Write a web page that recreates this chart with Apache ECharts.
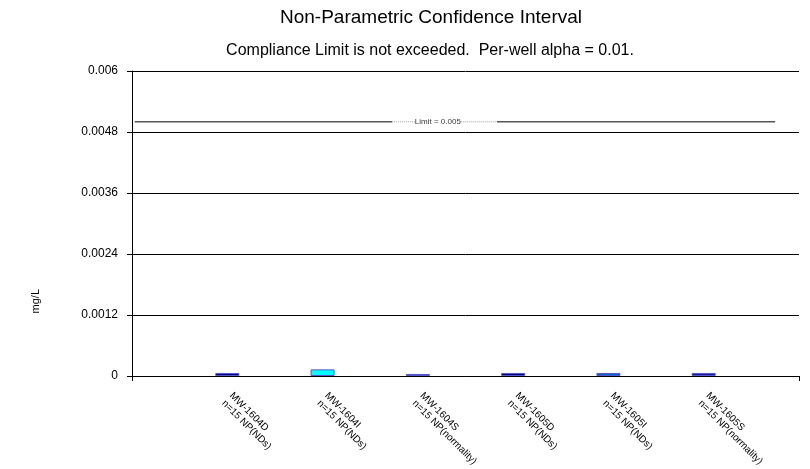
<!DOCTYPE html>
<html><head><meta charset="utf-8">
<script src="https://cdn.jsdelivr.net/npm/echarts@6/dist/echarts.min.js"></script>
<style>html,body{margin:0;padding:0;background:#fff}#c{width:810px;height:469px}</style>
</head><body><div id="c"></div>
<script>
var wells = ['MW-1604D', 'MW-1604I', 'MW-1604S', 'MW-1605D', 'MW-1605I', 'MW-1605S'];
var notes = ['n=15 NP(NDs)', 'n=15 NP(NDs)', 'n=15 NP(normality)', 'n=15 NP(NDs)', 'n=15 NP(NDs)', 'n=15 NP(normality)'];
var upper = [0.00006, 0.00013, 0.00004, 0.00006, 0.00006, 0.00006];
var fills = ['#000080', '#00ffff', '#000080', '#000080', '#0066cc', '#1a1aa0'];
var limitValue = 0.005;
var yTicks = [0, 0.0012, 0.0024, 0.0036, 0.0048, 0.006];

var cats = [''].concat(wells.map(function (w, i) { return w + '\n' + notes[i]; })).concat(['']);
var barData = [null].concat(upper.map(function (v, i) {
  return { value: v, itemStyle: { color: fills[i] } };
})).concat([null]);

var chart = echarts.init(document.getElementById('c'));
var font = 'Arial, "Liberation Sans", sans-serif';
chart.setOption({
  animation: false,
  textStyle: { fontFamily: font, color: '#000' },
  title: [
    { text: 'Non-Parametric Confidence Interval', left: 426, top: 3, textAlign: 'center',
      textStyle: { fontSize: 19, fontWeight: 'normal', color: '#000', fontFamily: font } },
    { text: 'Compliance Limit is not exceeded.  Per-well alpha = 0.01.', left: 425, top: 38, textAlign: 'center',
      textStyle: { fontSize: 16, fontWeight: 'normal', color: '#000', fontFamily: font } }
  ],
  graphic: [
    { type: 'text', left: 30, top: 289, rotation: Math.PI / 2,
      style: { text: 'mg/L', font: '11px Arial, "Liberation Sans", sans-serif', fill: '#000' } }
  ],
  grid: { left: 132, right: 11, top: 71, bottom: 93, containLabel: false },
  xAxis: [
    { type: 'category', data: cats, boundaryGap: false,
      axisLine: { lineStyle: { color: '#000', width: 1 } },
      axisTick: { show: true, length: 5, lineStyle: { color: '#000' },
        interval: function (i) { return i === 0 || i === cats.length - 1; } },
      axisLabel: { interval: 0, rotate: -45, margin: 22, fontSize: 10, lineHeight: 11, color: '#000', fontFamily: font, align: 'left' },
      splitLine: { show: false } },
    { type: 'value', min: 0, max: 7, show: false }
  ],
  yAxis: {
    type: 'value', min: 0, max: 0.006, interval: 0.0012,
    axisLine: { show: true, lineStyle: { color: '#000', width: 1 } },
    axisTick: { show: true, length: 5, lineStyle: { color: '#000' } },
    axisLabel: { fontSize: 12, color: '#000', margin: 14, fontFamily: font,
      formatter: function (v) { var t = yTicks.find(function (k) { return Math.abs(k - v) < 1e-9; }); return t === undefined ? '' : String(t); } },
    splitLine: { show: true, lineStyle: { color: '#000', width: 1 } }
  },
  series: [
    { type: 'bar', data: barData, barWidth: 24,
      itemStyle: { borderColor: '#5555cc', borderWidth: 1 } },
    { type: 'line', xAxisIndex: 1, symbol: 'none', silent: true,
      lineStyle: { color: '#000', width: 1 },
      data: [[0.03, limitValue], [2.73, limitValue], null, [3.83, limitValue], [6.75, limitValue]], connectNulls: false },
    { type: 'line', xAxisIndex: 1, symbol: 'none', silent: true,
      lineStyle: { color: '#999', width: 1, type: [1, 1] },
      data: [[2.73, limitValue], [2.97, limitValue], null, [3.45, limitValue], [3.83, limitValue]] },
    { type: 'scatter', xAxisIndex: 1, symbolSize: 0, silent: true,
      label: { show: true, position: 'inside', formatter: 'Limit = ' + limitValue, fontSize: 8, color: '#000', fontFamily: font },
      data: [[3.21, limitValue]] }
  ]
});
</script></body></html>
